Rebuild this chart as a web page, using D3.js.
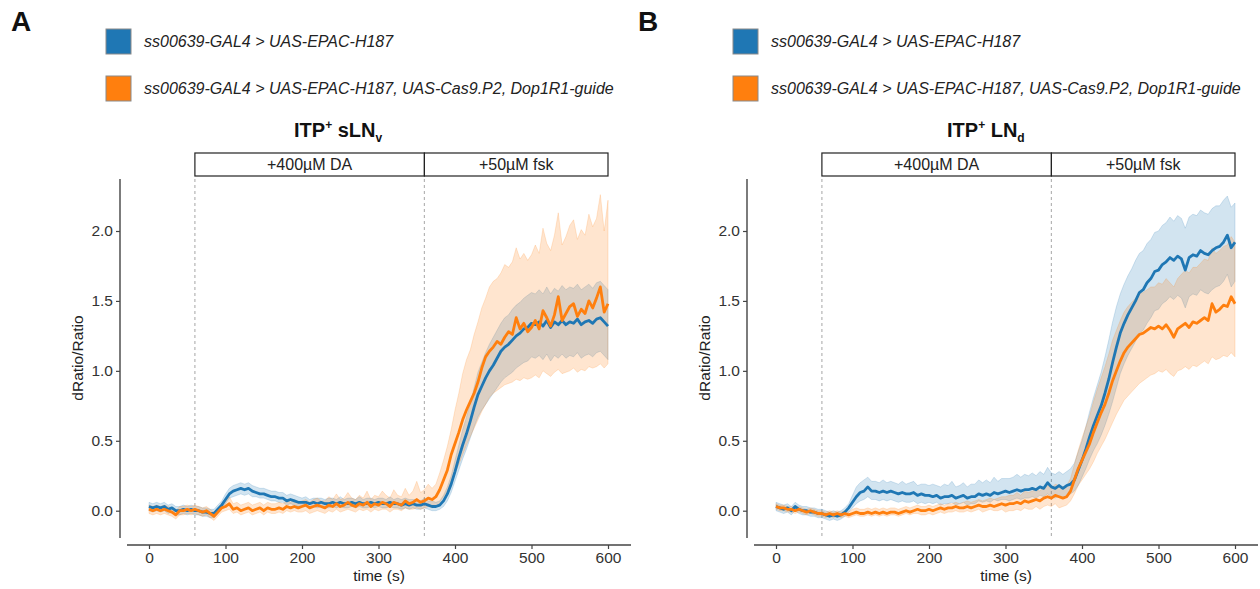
<!DOCTYPE html>
<html>
<head>
<meta charset="utf-8">
<script src="https://cdn.jsdelivr.net/npm/d3@7"></script>
<style>
  html, body { margin: 0; padding: 0; background: #fff; }
  svg { display: block; font-family: 'Liberation Sans', Arial, sans-serif; }
</style>
</head>
<body>
<div id="chart"></div>
<script>
(function() {
  'use strict';

  // sample times (s)
  const TIME = [0,5,10,15,20,25,30,35,40,45,50,55,60,65,70,75,80,85,90,95,
    100,105,110,115,120,125,130,135,140,145,150,155,160,165,170,175,180,185,190,195,
    200,205,210,215,220,225,230,235,240,245,250,255,260,265,270,275,280,285,290,295,
    300,305,310,315,320,325,330,335,340,345,350,355,360,365,370,375,380,385,390,395,
    400,405,410,415,420,425,430,435,440,445,450,455,460,465,470,475,480,485,490,495,
    500,505,510,515,520,525,530,535,540,545,550,555,560,565,570,575,580,585,590,595,600];

  const X_TICKS = [0, 100, 200, 300, 400, 500, 600];
  const Y_TICKS = [0, 0.5, 1.0, 1.5, 2.0];
  const STIM_TIMES = [60, 360, 600];
  const STIM_LABELS = ['+400\u00b5M DA', '+50\u00b5M fsk'];
  const LEGEND_LABELS = [
    'ss00639-GAL4 > UAS-EPAC-H187',
    'ss00639-GAL4 > UAS-EPAC-H187, UAS-Cas9.P2, Dop1R1-guide'
  ];

  // panel A: ITP+ sLNv
  const aBlueMean = [0.03,0.02,0.03,0.02,0.03,0.01,0.02,0.00,0.00,0.01,0.00,0.01,0.00,0.00,-0.01,-0.01,-0.02,-0.02,0.01,0.04,
    0.08,0.12,0.14,0.15,0.16,0.15,0.16,0.14,0.13,0.12,0.12,0.11,0.10,0.10,0.09,0.09,0.07,0.08,0.07,0.06,
    0.06,0.06,0.05,0.06,0.05,0.06,0.05,0.05,0.06,0.05,0.06,0.05,0.05,0.06,0.05,0.06,0.05,0.05,0.06,0.05,
    0.06,0.05,0.05,0.06,0.05,0.05,0.04,0.05,0.04,0.05,0.04,0.04,0.05,0.04,0.03,0.03,0.04,0.07,0.12,0.19,
    0.28,0.38,0.47,0.55,0.64,0.74,0.83,0.89,0.95,1.00,1.04,1.09,1.14,1.17,1.19,1.22,1.25,1.27,1.30,1.31,
    1.34,1.33,1.35,1.32,1.36,1.31,1.35,1.33,1.36,1.33,1.35,1.34,1.37,1.33,1.35,1.36,1.34,1.37,1.38,1.35,1.32];
  const aBlueHi = [0.06,0.05,0.06,0.05,0.06,0.04,0.05,0.03,0.03,0.04,0.03,0.04,0.03,0.03,0.02,0.02,0.01,0.01,0.04,0.07,
    0.12,0.16,0.18,0.19,0.20,0.19,0.20,0.18,0.17,0.16,0.16,0.15,0.14,0.14,0.13,0.13,0.11,0.12,0.11,0.10,
    0.09,0.10,0.08,0.09,0.09,0.09,0.08,0.09,0.09,0.08,0.10,0.08,0.09,0.09,0.08,0.10,0.08,0.09,0.09,0.08,
    0.09,0.09,0.08,0.10,0.08,0.09,0.08,0.09,0.08,0.08,0.08,0.07,0.09,0.07,0.07,0.06,0.07,0.11,0.17,0.25,
    0.36,0.47,0.58,0.67,0.77,0.88,0.99,1.06,1.13,1.19,1.24,1.29,1.34,1.38,1.40,1.44,1.47,1.49,1.52,1.54,
    1.56,1.55,1.58,1.55,1.60,1.55,1.59,1.57,1.61,1.58,1.60,1.59,1.62,1.58,1.60,1.62,1.59,1.63,1.64,1.61,1.58];
  const aBlueLo = [0.00,-0.01,0.00,-0.01,0.00,-0.02,-0.01,-0.03,-0.03,-0.02,-0.03,-0.02,-0.03,-0.03,-0.04,-0.04,-0.05,-0.05,-0.02,0.01,
    0.05,0.09,0.10,0.11,0.12,0.11,0.12,0.10,0.10,0.09,0.09,0.08,0.07,0.07,0.06,0.06,0.04,0.05,0.04,0.03,
    0.03,0.03,0.02,0.03,0.02,0.03,0.02,0.02,0.03,0.02,0.03,0.02,0.02,0.03,0.02,0.03,0.02,0.02,0.03,0.02,
    0.03,0.02,0.02,0.03,0.02,0.02,0.01,0.02,0.01,0.02,0.01,0.01,0.02,0.01,0.00,0.00,0.01,0.03,0.07,0.13,
    0.21,0.29,0.37,0.44,0.52,0.60,0.67,0.72,0.76,0.80,0.84,0.88,0.92,0.95,0.97,0.99,1.02,1.04,1.06,1.07,
    1.10,1.09,1.11,1.08,1.12,1.07,1.11,1.09,1.12,1.09,1.11,1.10,1.13,1.09,1.11,1.12,1.10,1.13,1.14,1.11,1.08];

  const aOrgMean = [0.01,0.00,0.01,0.00,0.01,0.00,-0.01,-0.03,0.00,0.00,0.01,0.00,0.01,0.00,-0.01,0.00,-0.02,-0.04,-0.01,0.02,
    0.03,0.05,0.01,0.02,0.00,0.01,0.02,0.00,0.01,0.02,0.00,0.02,0.01,0.01,0.02,0.01,0.03,0.02,0.03,0.02,
    0.03,0.04,0.02,0.03,0.04,0.03,0.02,0.04,0.03,0.05,0.03,0.04,0.06,0.04,0.03,0.05,0.04,0.06,0.03,0.05,
    0.04,0.06,0.05,0.03,0.06,0.05,0.04,0.07,0.05,0.06,0.08,0.06,0.07,0.09,0.08,0.10,0.15,0.22,0.29,0.40,
    0.48,0.56,0.65,0.72,0.78,0.84,0.92,1.02,1.10,1.14,1.17,1.21,1.19,1.24,1.28,1.26,1.38,1.30,1.34,1.28,
    1.31,1.36,1.30,1.43,1.38,1.32,1.40,1.53,1.36,1.41,1.46,1.48,1.39,1.44,1.41,1.50,1.45,1.52,1.60,1.42,1.48];
  const aOrgHi = [0.04,0.03,0.04,0.03,0.04,0.03,0.02,0.00,0.03,0.03,0.04,0.03,0.04,0.03,0.02,0.03,0.01,-0.01,0.02,0.05,
    0.07,0.10,0.05,0.06,0.04,0.05,0.06,0.04,0.05,0.06,0.04,0.06,0.05,0.05,0.06,0.05,0.07,0.06,0.08,0.06,
    0.07,0.08,0.06,0.08,0.09,0.07,0.07,0.10,0.08,0.12,0.08,0.09,0.13,0.09,0.08,0.11,0.09,0.14,0.08,0.11,
    0.10,0.14,0.11,0.09,0.15,0.11,0.10,0.16,0.11,0.14,0.21,0.13,0.15,0.19,0.16,0.19,0.27,0.36,0.46,0.58,
    0.72,0.84,0.98,1.08,1.15,1.26,1.35,1.45,1.52,1.60,1.64,1.66,1.70,1.76,1.74,1.78,1.88,1.80,1.84,1.79,
    1.83,1.90,1.84,2.02,1.91,1.86,1.97,2.13,1.90,1.96,2.04,2.08,1.94,2.01,1.97,2.12,2.03,2.09,2.26,2.00,2.22];
  const aOrgLo = [-0.02,-0.03,-0.02,-0.03,-0.02,-0.03,-0.04,-0.06,-0.03,-0.03,-0.02,-0.03,-0.02,-0.03,-0.04,-0.03,-0.05,-0.07,-0.04,-0.01,
    0.00,0.01,-0.02,-0.01,-0.03,-0.02,-0.01,-0.03,-0.02,-0.01,-0.03,-0.01,-0.02,-0.02,-0.01,-0.02,0.00,-0.01,0.00,-0.01,
    -0.01,0.00,-0.02,-0.01,0.00,-0.01,-0.02,0.00,-0.01,0.01,-0.01,0.00,0.01,0.00,-0.01,0.01,0.00,0.01,-0.01,0.01,
    0.00,0.01,0.01,-0.01,0.01,0.01,0.00,0.02,0.01,0.01,0.02,0.01,0.02,0.03,0.02,0.03,0.06,0.10,0.14,0.21,
    0.27,0.33,0.40,0.47,0.53,0.59,0.65,0.71,0.76,0.81,0.84,0.86,0.88,0.90,0.91,0.92,0.94,0.93,0.95,0.94,
    0.95,0.97,0.95,1.00,0.98,0.96,0.99,1.01,0.98,0.99,1.00,1.02,0.99,1.01,1.00,1.03,1.02,1.03,1.05,1.02,1.05];

  // panel B: ITP+ LNd
  const bBlueMean = [0.03,0.02,0.01,0.02,0.00,0.03,0.01,0.00,0.00,-0.01,-0.01,-0.02,-0.02,-0.03,-0.04,-0.03,-0.04,-0.03,-0.01,0.02,
    0.06,0.10,0.13,0.14,0.17,0.14,0.14,0.13,0.14,0.13,0.14,0.13,0.12,0.13,0.12,0.12,0.13,0.11,0.12,0.11,
    0.11,0.10,0.11,0.09,0.10,0.10,0.11,0.09,0.10,0.11,0.09,0.10,0.10,0.12,0.11,0.12,0.11,0.13,0.12,0.13,
    0.14,0.13,0.14,0.15,0.14,0.15,0.15,0.16,0.15,0.17,0.16,0.20,0.17,0.16,0.18,0.16,0.18,0.19,0.22,0.29,
    0.36,0.44,0.53,0.61,0.68,0.75,0.84,0.94,1.06,1.17,1.27,1.34,1.40,1.45,1.50,1.56,1.58,1.63,1.66,1.71,
    1.72,1.76,1.78,1.81,1.79,1.82,1.80,1.72,1.81,1.83,1.82,1.86,1.84,1.83,1.86,1.88,1.89,1.92,1.97,1.88,1.92];
  const bBlueHi = [0.06,0.05,0.04,0.05,0.03,0.06,0.04,0.03,0.03,0.02,0.02,0.01,0.01,0.00,-0.01,0.00,-0.01,0.00,0.02,0.05,
    0.11,0.17,0.20,0.22,0.24,0.21,0.21,0.20,0.22,0.20,0.21,0.20,0.19,0.21,0.19,0.20,0.21,0.18,0.19,0.19,
    0.18,0.19,0.18,0.17,0.19,0.18,0.21,0.17,0.18,0.20,0.17,0.19,0.19,0.22,0.20,0.22,0.20,0.24,0.21,0.23,
    0.23,0.23,0.24,0.26,0.24,0.26,0.25,0.27,0.25,0.28,0.26,0.31,0.27,0.26,0.28,0.26,0.28,0.30,0.34,0.42,
    0.50,0.60,0.71,0.81,0.90,0.99,1.10,1.22,1.35,1.46,1.55,1.62,1.68,1.73,1.79,1.84,1.86,1.91,1.94,1.99,
    2.00,2.04,2.06,2.10,2.07,2.11,2.09,2.02,2.10,2.12,2.11,2.15,2.13,2.12,2.16,2.18,2.18,2.22,2.25,2.17,2.20];
  const bBlueLo = [0.00,-0.01,-0.02,-0.01,-0.03,0.00,-0.02,-0.03,-0.03,-0.04,-0.04,-0.05,-0.05,-0.06,-0.07,-0.06,-0.07,-0.06,-0.04,-0.01,
    0.02,0.05,0.07,0.08,0.10,0.08,0.08,0.07,0.08,0.07,0.08,0.07,0.06,0.07,0.06,0.06,0.07,0.05,0.06,0.05,
    0.06,0.05,0.06,0.04,0.05,0.05,0.06,0.04,0.05,0.06,0.04,0.05,0.05,0.07,0.06,0.07,0.06,0.08,0.07,0.08,
    0.08,0.07,0.08,0.09,0.08,0.09,0.09,0.10,0.09,0.11,0.10,0.12,0.10,0.09,0.11,0.09,0.11,0.12,0.14,0.18,
    0.24,0.30,0.37,0.43,0.48,0.54,0.61,0.69,0.78,0.88,0.98,1.05,1.11,1.16,1.21,1.27,1.29,1.34,1.38,1.43,
    1.44,1.48,1.50,1.53,1.51,1.54,1.52,1.45,1.53,1.55,1.54,1.58,1.56,1.55,1.58,1.60,1.61,1.64,1.69,1.60,1.64];

  const bOrgMean = [0.03,0.02,0.02,0.01,0.01,0.00,0.01,0.00,-0.01,0.00,-0.01,-0.02,-0.02,-0.03,-0.02,-0.03,-0.02,-0.03,-0.02,-0.03,
    -0.02,-0.01,-0.02,-0.02,-0.01,-0.02,-0.01,-0.02,-0.01,-0.02,-0.01,-0.01,-0.02,-0.01,0.00,-0.01,0.00,0.01,0.00,0.00,
    0.01,0.00,0.01,0.02,0.01,0.02,0.02,0.03,0.02,0.02,0.03,0.02,0.03,0.04,0.03,0.03,0.04,0.03,0.04,0.05,
    0.04,0.05,0.05,0.06,0.05,0.07,0.06,0.07,0.08,0.07,0.09,0.10,0.09,0.11,0.10,0.09,0.10,0.14,0.22,0.30,
    0.36,0.42,0.48,0.56,0.63,0.70,0.76,0.84,0.93,1.00,1.07,1.13,1.17,1.20,1.23,1.26,1.27,1.29,1.31,1.30,
    1.32,1.30,1.33,1.29,1.24,1.30,1.32,1.34,1.31,1.35,1.34,1.36,1.38,1.36,1.48,1.42,1.44,1.47,1.46,1.53,1.48];
  const bOrgHi = [0.05,0.04,0.04,0.03,0.03,0.02,0.03,0.02,0.01,0.02,0.01,0.00,0.00,-0.01,0.00,-0.01,0.00,-0.01,0.00,-0.01,
    0.01,0.02,0.01,0.01,0.02,0.01,0.02,0.01,0.02,0.01,0.02,0.02,0.01,0.02,0.03,0.02,0.03,0.04,0.03,0.03,
    0.04,0.03,0.04,0.05,0.04,0.05,0.05,0.06,0.05,0.06,0.07,0.06,0.07,0.08,0.07,0.08,0.09,0.08,0.09,0.10,
    0.10,0.11,0.11,0.13,0.11,0.14,0.13,0.14,0.15,0.14,0.17,0.18,0.16,0.19,0.18,0.17,0.18,0.23,0.33,0.43,
    0.52,0.60,0.68,0.78,0.87,0.95,1.03,1.12,1.22,1.29,1.36,1.42,1.46,1.49,1.52,1.55,1.56,1.58,1.60,1.60,
    1.63,1.62,1.66,1.63,1.60,1.66,1.69,1.72,1.70,1.74,1.74,1.77,1.80,1.79,1.88,1.84,1.86,1.89,1.90,1.96,1.92];
  const bOrgLo = [0.01,0.00,0.00,-0.01,-0.01,-0.02,-0.01,-0.02,-0.03,-0.02,-0.03,-0.04,-0.04,-0.05,-0.04,-0.05,-0.04,-0.05,-0.04,-0.05,
    -0.04,-0.03,-0.04,-0.04,-0.03,-0.04,-0.03,-0.04,-0.03,-0.04,-0.03,-0.03,-0.04,-0.03,-0.02,-0.03,-0.02,-0.02,-0.03,-0.03,
    -0.02,-0.03,-0.02,-0.01,-0.02,-0.01,-0.01,0.00,-0.01,-0.01,0.00,-0.01,0.00,0.01,-0.01,0.00,0.01,0.00,0.00,0.01,
    -0.01,0.00,0.00,0.01,0.00,0.02,0.01,0.01,0.03,0.01,0.03,0.04,0.03,0.05,0.02,0.03,0.04,0.07,0.12,0.18,
    0.22,0.26,0.30,0.35,0.41,0.46,0.51,0.57,0.63,0.69,0.74,0.79,0.82,0.85,0.88,0.91,0.93,0.95,0.97,0.98,
    1.00,0.99,1.01,0.98,0.96,1.00,1.01,1.03,1.01,1.04,1.03,1.05,1.07,1.05,1.10,1.08,1.09,1.11,1.10,1.13,1.10];

  const COLORS = ['#1f77b4', '#ff7f0e'];

  const width = 1260;
  const height = 589;

  const svg = d3.select('#chart').append('svg')
    .attr('width', width)
    .attr('height', height);

  function drawPanel(ox, cfg) {
    const g = svg.append('g').attr('transform', `translate(${ox},0)`);

    const x = d3.scaleLinear().domain([0, 600]).range([149, 608]);
    const y = d3.scaleLinear().domain([0, 2]).range([510.7, 231]);

    // panel letter
    g.append('text')
      .attr('x', 11).attr('y', 31)
      .attr('font-size', 28).attr('font-weight', 'bold')
      .attr('fill', '#111')
      .text(cfg.letter);

    // legend
    const leg = g.append('g');
    LEGEND_LABELS.forEach((label, i) => {
      leg.append('rect')
        .attr('x', 106).attr('y', 29 + i * 47)
        .attr('width', 25).attr('height', 25)
        .attr('fill', COLORS[i])
        .attr('stroke', '#8a8a8a').attr('stroke-width', 1);
      leg.append('text')
        .attr('x', 144).attr('y', 47 + i * 47)
        .attr('font-size', 16).attr('font-style', 'italic')
        .attr('fill', '#222')
        .text(label);
    });

    // title with super/subscript
    const title = g.append('text')
      .attr('x', cfg.titleX).attr('y', 137)
      .attr('font-size', 20).attr('font-weight', 'bold')
      .attr('fill', '#111');
    title.append('tspan').text('ITP');
    title.append('tspan').attr('font-size', 12).attr('dy', -8).text('+');
    title.append('tspan').attr('dy', 8).text(' ' + cfg.cell);
    title.append('tspan').attr('font-size', 12).attr('dy', 5).text(cfg.sub);

    // stimulus boxes
    const box = g.append('g');
    for (let i = 0; i < STIM_LABELS.length; i++) {
      const x0 = x(STIM_TIMES[i]);
      const x1 = x(STIM_TIMES[i + 1]);
      box.append('rect')
        .attr('x', x0).attr('y', 153)
        .attr('width', x1 - x0).attr('height', 23)
        .attr('fill', 'none')
        .attr('stroke', '#222').attr('stroke-width', 1.2);
      box.append('text')
        .attr('x', (x0 + x1) / 2).attr('y', 170)
        .attr('text-anchor', 'middle')
        .attr('font-size', 16).attr('fill', '#222')
        .text(STIM_LABELS[i]);
    }

    // dashed stimulus onsets
    g.append('g').selectAll('line')
      .data(STIM_TIMES.slice(0, 2))
      .join('line')
      .attr('x1', d => x(d)).attr('x2', d => x(d))
      .attr('y1', 179).attr('y2', 538)
      .attr('stroke', '#b5b5b5').attr('stroke-width', 1.2)
      .attr('stroke-dasharray', '3,3');

    // bands then lines
    const series = cfg.series;
    series.forEach((s, k) => {
      const area = d3.area()
        .x((d, i) => x(TIME[i]))
        .y0((d, i) => y(s.lo[i]))
        .y1((d, i) => y(s.hi[i]));
      g.append('path')
        .datum(s.mean)
        .attr('d', area)
        .attr('fill', COLORS[k]).attr('fill-opacity', 0.2)
        .attr('stroke', COLORS[k]).attr('stroke-opacity', 0.18)
        .attr('stroke-width', 1);
    });
    series.forEach((s, k) => {
      const line = d3.line()
        .x((d, i) => x(TIME[i]))
        .y(d => y(d));
      g.append('path')
        .datum(s.mean)
        .attr('d', line)
        .attr('fill', 'none')
        .attr('stroke', COLORS[k])
        .attr('stroke-width', 2.8)
        .attr('stroke-linejoin', 'round');
    });

    // y axis (offset)
    const yAxis = g.append('g')
      .attr('transform', 'translate(120,0)')
      .call(d3.axisLeft(y).tickValues(Y_TICKS).tickFormat(d3.format('.1f')).tickSize(4).tickSizeOuter(0).tickPadding(3));
    yAxis.select('.domain').attr('d', 'M0,179V538');

    // x axis (offset)
    const xAxis = g.append('g')
      .attr('transform', 'translate(0,545)')
      .call(d3.axisBottom(x).tickValues(X_TICKS).tickSize(4).tickSizeOuter(0).tickPadding(3));
    xAxis.select('.domain').attr('d', `M127,0H${cfg.xEnd}`);

    [yAxis, xAxis].forEach(ax => {
      ax.select('.domain').attr('stroke', '#444').attr('stroke-width', 1.4);
      ax.selectAll('.tick line').attr('stroke', '#444').attr('stroke-width', 1.2);
      ax.selectAll('.tick text')
        .attr('font-family', "'Liberation Sans', Arial, sans-serif")
        .attr('font-size', 15.5).attr('fill', '#333');
    });

    g.append('text')
      .attr('x', 379).attr('y', 581)
      .attr('text-anchor', 'middle')
      .attr('font-size', 15.5).attr('fill', '#222')
      .text('time (s)');

    g.append('text')
      .attr('transform', 'translate(83,358) rotate(-90)')
      .attr('text-anchor', 'middle')
      .attr('font-size', 15.5).attr('fill', '#222')
      .text('dRatio/Ratio');
  }

  drawPanel(0, {
    letter: 'A', cell: 'sLN', sub: 'v', titleX: 294, xEnd: 631,
    series: [
      { mean: aBlueMean, lo: aBlueLo, hi: aBlueHi },
      { mean: aOrgMean, lo: aOrgLo, hi: aOrgHi }
    ]
  });

  drawPanel(627, {
    letter: 'B', cell: 'LN', sub: 'd', titleX: 320, xEnd: 631,
    series: [
      { mean: bBlueMean, lo: bBlueLo, hi: bBlueHi },
      { mean: bOrgMean, lo: bOrgLo, hi: bOrgHi }
    ]
  });
})();
</script>
</body>
</html>
